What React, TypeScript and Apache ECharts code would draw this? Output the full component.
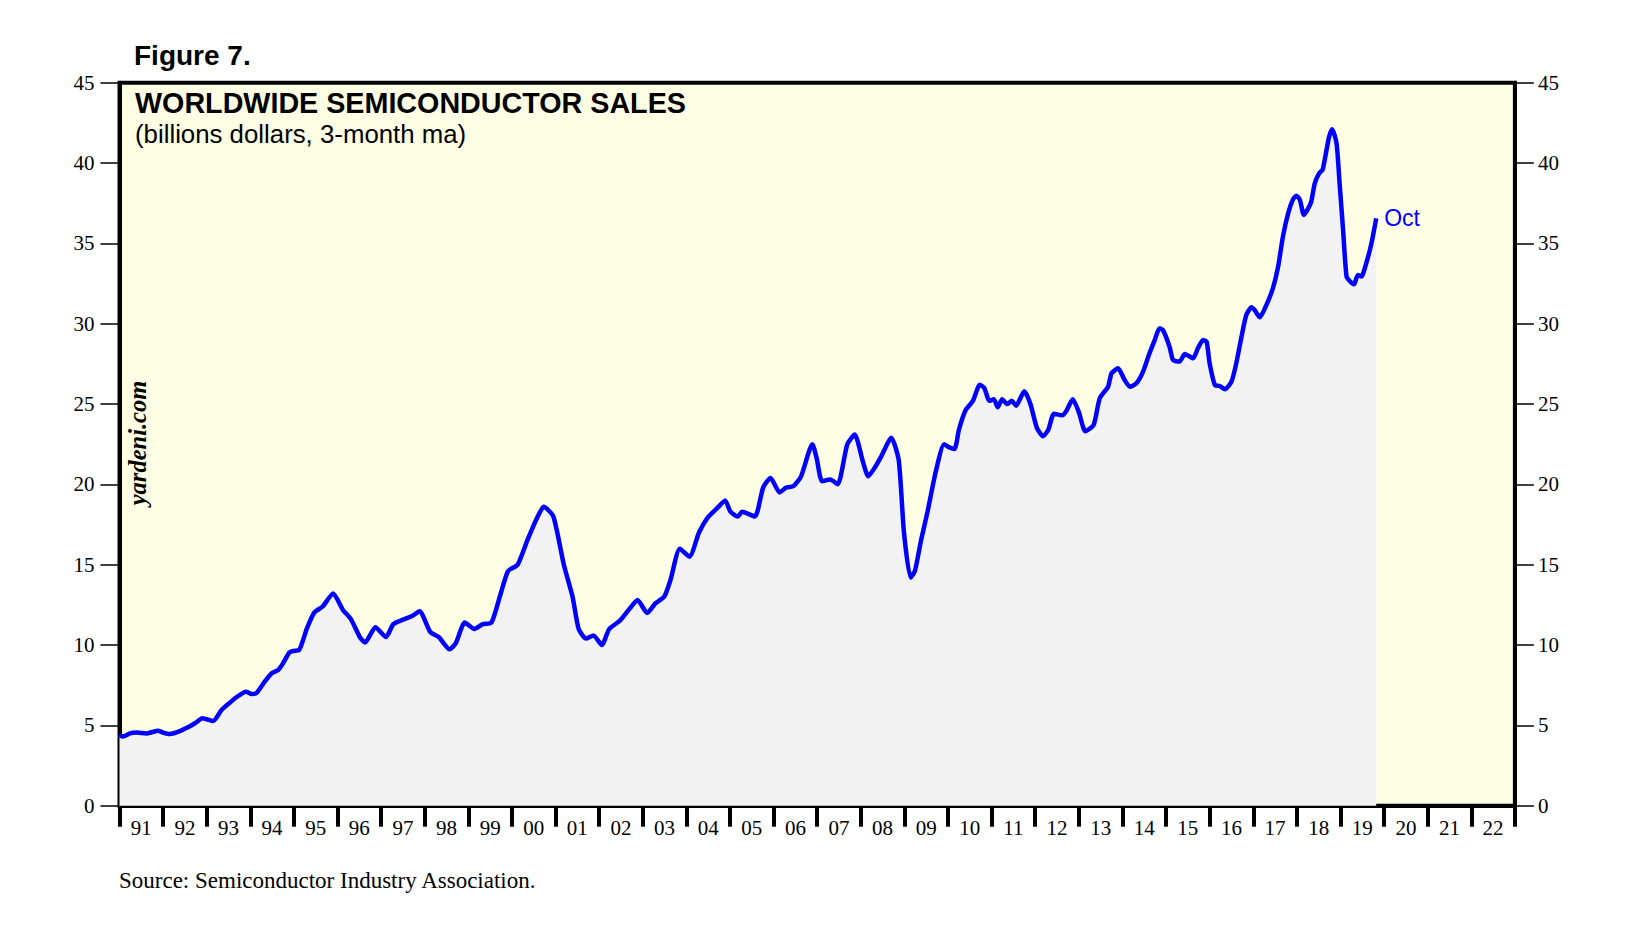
import React, { useEffect, useRef } from "react";
import * as echarts from "echarts";

// Year labels of the category (tick) axis
const yearLabels = [
  "91", "92", "93", "94", "95", "96", "97", "98", "99", "00", "01",
  "02", "03", "04", "05", "06", "07", "08", "09", "10", "11", "12",
  "13", "14", "15", "16", "17", "18", "19", "20", "21", "22",
];

// Dates (decimal years)
const saleDates = [
  1991.0, 1991.08, 1991.24, 1991.39, 1991.62, 1991.89, 1992.0, 1992.15, 1992.34, 1992.57,
  1992.73, 1992.9, 1993.0, 1993.15, 1993.34, 1993.53, 1993.68, 1993.9, 1994.03, 1994.14,
  1994.33, 1994.49, 1994.64, 1994.75, 1994.89, 1994.98, 1995.12, 1995.21, 1995.3, 1995.47,
  1995.66, 1995.9, 1996.12, 1996.31, 1996.51, 1996.63, 1996.87, 1997.11, 1997.28, 1997.52,
  1997.71, 1997.88, 1998.13, 1998.32, 1998.57, 1998.71, 1998.92, 1999.14, 1999.33, 1999.53,
  1999.72, 1999.91, 2000.13, 2000.35, 2000.59, 2000.73, 2000.95, 2001.19, 2001.39, 2001.53,
  2001.7, 2001.87, 2002.06, 2002.23, 2002.47, 2002.71, 2002.88, 2003.1, 2003.29, 2003.49,
  2003.63, 2003.85, 2004.07, 2004.29, 2004.48, 2004.7, 2004.89, 2005.01, 2005.18, 2005.28,
  2005.57, 2005.76, 2005.93, 2006.14, 2006.29, 2006.46, 2006.63, 2006.89, 2006.99, 2007.11,
  2007.3, 2007.47, 2007.69, 2007.86, 2008.05, 2008.17, 2008.31, 2008.46, 2008.7, 2008.87,
  2008.99, 2009.14, 2009.24, 2009.38, 2009.53, 2009.72, 2009.91, 2010.03, 2010.15, 2010.25,
  2010.4, 2010.57, 2010.73, 2010.83, 2010.95, 2011.05, 2011.14, 2011.24, 2011.36, 2011.46,
  2011.56, 2011.75, 2011.89, 2012.04, 2012.18, 2012.3, 2012.43, 2012.62, 2012.72, 2012.86,
  2013.0, 2013.15, 2013.34, 2013.48, 2013.67, 2013.75, 2013.9, 2014.05, 2014.17, 2014.32,
  2014.47, 2014.62, 2014.74, 2014.85, 2014.93, 2015.08, 2015.16, 2015.31, 2015.43, 2015.62,
  2015.73, 2015.85, 2015.93, 2016.0, 2016.12, 2016.23, 2016.35, 2016.5, 2016.61, 2016.73,
  2016.84, 2016.96, 2017.03, 2017.15, 2017.3, 2017.45, 2017.57, 2017.68, 2017.8, 2017.91,
  2017.99, 2018.07, 2018.16, 2018.26, 2018.33, 2018.41, 2018.51, 2018.59, 2018.68, 2018.74,
  2018.81, 2018.91, 2018.98, 2019.06, 2019.14, 2019.23, 2019.31, 2019.4, 2019.48, 2019.59,
  2019.71, 2019.82,
];

// Worldwide semiconductor sales, billions of dollars (3-month ma)
const saleValues = [
  4.4, 4.3, 4.5, 4.55, 4.5, 4.67, 4.55, 4.46, 4.59, 4.88,
  5.13, 5.44, 5.38, 5.27, 5.96, 6.41, 6.75, 7.1, 6.95, 7.0,
  7.72, 8.24, 8.45, 8.86, 9.52, 9.63, 9.69, 10.31, 11.05, 12.03,
  12.4, 13.2, 12.2, 11.6, 10.5, 10.15, 11.1, 10.5, 11.3, 11.6,
  11.8, 12.1, 10.8, 10.5, 9.73, 10.1, 11.4, 11.0, 11.3, 11.4,
  13.0, 14.6, 15.0, 16.5, 18.0, 18.6, 18.0, 15.0, 13.0, 11.0,
  10.4, 10.6, 10.0, 11.0, 11.5, 12.3, 12.8, 12.0, 12.6, 13.0,
  14.0, 16.0, 15.5, 17.0, 17.9, 18.5, 19.0, 18.3, 18.0, 18.3,
  18.0, 19.8, 20.4, 19.5, 19.8, 19.9, 20.5, 22.5, 21.6, 20.2,
  20.3, 20.0, 22.5, 23.1, 21.4, 20.5, 21.0, 21.7, 22.9, 21.5,
  17.0, 14.2, 14.6, 16.5, 18.3, 20.8, 22.5, 22.3, 22.2, 23.4,
  24.6, 25.2, 26.2, 26.0, 25.2, 25.3, 24.8, 25.3, 25.0, 25.2,
  24.9, 25.8, 25.0, 23.5, 23.0, 23.4, 24.4, 24.3, 24.6, 25.3,
  24.5, 23.3, 23.7, 25.36, 26.08, 26.91, 27.22, 26.5, 26.08, 26.29,
  27.0, 28.16, 28.98, 29.71, 29.6, 28.57, 27.74, 27.64, 28.11, 27.85,
  28.47, 28.98, 28.88, 27.53, 26.18, 26.12, 25.92, 26.39, 27.53, 29.19,
  30.54, 31.02, 30.85, 30.4, 31.16, 32.2, 33.55, 35.42, 36.87, 37.74,
  37.97, 37.7, 36.77, 37.18, 37.6, 38.74, 39.36, 39.57, 40.81, 41.64,
  42.1, 41.23, 38.74, 35.83, 32.93, 32.61, 32.45, 33.03, 32.93, 33.76,
  35.0, 36.56,
];

const lastLabel = "Oct";

const SERIF = '"Liberation Serif", "Times New Roman", serif';
const SANS = '"Liberation Sans", Arial, sans-serif';

export default function App() {
  const ref = useRef<HTMLDivElement>(null);

  useEffect(() => {
    if (!ref.current) return;
    const chart = echarts.init(ref.current, null, { renderer: "svg" });

    const seriesData = saleDates.map((d, i) => [d, saleValues[i]]);

    const yAxisBase = (position: "left" | "right", margin: number) => ({
      type: "value" as const,
      position,
      min: 0,
      max: 45,
      interval: 5,
      axisLine: { show: true, onZero: false, lineStyle: { color: "#000", width: 4 } },
      axisTick: { show: true, length: 19, lineStyle: { color: "#000", width: 1.5 } },
      axisLabel: { margin, color: "#000", fontFamily: SERIF, fontSize: 21 },
      splitLine: { show: false },
    });

    chart.setOption({
      animation: false,
      backgroundColor: "#ffffff",
      grid: {
        left: 111.5,
        top: 74.7,
        right: 126.1,
        bottom: 122.3,
        show: true,
        backgroundColor: "#fefee4",
        borderColor: "#000",
        borderWidth: 4,
        containLabel: false,
      },
      xAxis: [
        {
          type: "category",
          data: yearLabels,
          boundaryGap: true,
          position: "bottom",
          axisLine: { show: true, lineStyle: { color: "#000", width: 4 } },
          axisTick: {
            show: true,
            interval: 0,
            alignWithLabel: false,
            length: 21,
            lineStyle: { color: "#000", width: 4 },
          },
          axisLabel: { interval: 0, margin: 12, color: "#000", fontFamily: SERIF, fontSize: 21 },
          splitLine: { show: false },
        },
        {
          type: "value",
          min: 1991,
          max: 2023,
          show: false,
          splitLine: { show: false },
        },
      ],
      yAxis: [yAxisBase("left", 25), yAxisBase("right", 23)],
      series: [
        {
          type: "line",
          xAxisIndex: 1,
          yAxisIndex: 0,
          data: seriesData,
          showSymbol: false,
          smooth: 0.2,
          lineStyle: { color: "#0000ff", width: 4.5 },
          areaStyle: { color: "#f2f2f2", opacity: 1 },
          endLabel: {
            show: true,
            formatter: lastLabel,
            color: "#0000ff",
            fontFamily: SANS,
            fontSize: 23,
            distance: 8,
          },
          z: 2,
        },
      ],
      graphic: [
        {
          type: "text",
          x: 126,
          y: 47.5,
          style: {
            text: "Figure 7.",
            fill: "#000",
            fontFamily: SANS,
            fontWeight: "bold",
            fontSize: 28,
            align: "left",
            verticalAlign: "middle",
          },
        },
        {
          type: "text",
          x: 127,
          y: 94.5,
          z: 10,
          style: {
            text: "WORLDWIDE SEMICONDUCTOR SALES",
            fill: "#000",
            fontFamily: SANS,
            fontWeight: "bold",
            fontSize: 28.7,
            align: "left",
            verticalAlign: "middle",
          },
        },
        {
          type: "text",
          x: 127,
          y: 125.5,
          z: 10,
          style: {
            text: "(billions dollars, 3-month ma)",
            fill: "#000",
            fontFamily: SANS,
            fontSize: 25.8,
            align: "left",
            verticalAlign: "middle",
          },
        },
        {
          type: "text",
          x: 129,
          y: 435,
          rotation: Math.PI / 2,
          z: 10,
          style: {
            text: "yardeni.com",
            fill: "#000",
            fontFamily: SERIF,
            fontWeight: "bold",
            fontStyle: "italic",
            fontSize: 24.5,
            align: "center",
            verticalAlign: "middle",
          },
        },
        {
          type: "text",
          x: 111,
          y: 872,
          style: {
            text: "Source: Semiconductor Industry Association.",
            fill: "#000",
            fontFamily: SERIF,
            fontSize: 23,
            align: "left",
            verticalAlign: "middle",
          },
        },
      ],
    });

    return () => chart.dispose();
  }, []);

  return <div ref={ref} style={{ width: 1633, height: 920 }} />;
}
